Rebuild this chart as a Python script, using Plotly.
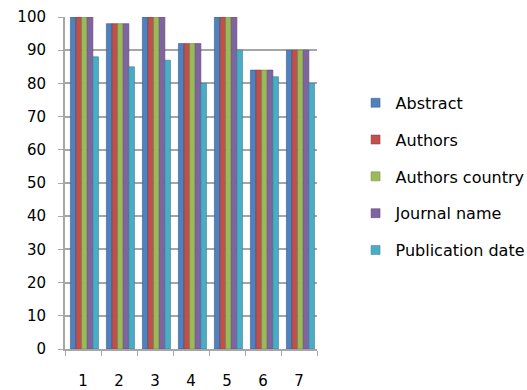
import plotly.graph_objects as go

categories = ["1", "2", "3", "4", "5", "6", "7"]
series_names = ["Abstract", "Authors", "Authors country", "Journal name", "Publication date"]
abstract = [100, 98, 100, 92, 100, 84, 90]
authors = [100, 98, 100, 92, 100, 84, 90]
authors_country = [100, 98, 100, 92, 100, 84, 90]
journal_name = [100, 98, 100, 92, 100, 84, 90]
publication_date = [88, 85, 87, 80, 90, 82, 80]
colors = ["#4F81BD", "#C0504D", "#9BBB59", "#8064A2", "#4BACC6"]
edges = ["#385D8A", "#8C3836", "#71893F", "#5C4776", "#357D91"]

values = [abstract, authors, authors_country, journal_name, publication_date]

bar_w = 0.156
start = -0.35

fig = go.Figure()
for i, (name, vals) in enumerate(zip(series_names, values)):
    fig.add_trace(go.Bar(
        x=categories, y=vals, name=name,
        width=bar_w, offset=start + i * bar_w,
        marker=dict(color=colors[i], line=dict(color=edges[i], width=0.6)),
        showlegend=False,
    ))
# legend entries (small square keys)
for i, name in enumerate(series_names):
    fig.add_trace(go.Scatter(
        x=[None], y=[None], mode="markers", name=name,
        marker=dict(symbol="square", size=9, color=colors[i],
                    line=dict(color=edges[i], width=0.5)),
        legendgroup=name, showlegend=True, hoverinfo="skip",
    ))

font = "DejaVu Sans"
fig.update_layout(
    width=527, height=390,
    margin=dict(l=65, r=210, t=17, b=41, autoexpand=False),
    paper_bgcolor="white", plot_bgcolor="white",
    barmode="overlay",
    font=dict(family=font, size=15, color="black"),
    showlegend=True,
    legend=dict(x=1.153, y=0.52, xanchor="left", yanchor="middle",
                font=dict(size=16, family=font), tracegroupgap=13,
                itemwidth=30),
    xaxis=dict(type="category", showgrid=False, showline=True,
               linecolor="#a6a6a6", linewidth=2, automargin=False,
               ticks="outside", tickson="boundaries", ticklen=5,
               tickcolor="#a6a6a6", tickwidth=1,
               ticklabelstandoff=17, tickfont=dict(size=15)),
    yaxis=dict(range=[0, 100], dtick=10, showgrid=True, automargin=False,
               gridcolor="#a6a6a6", gridwidth=2,
               showline=True, linecolor="#a6a6a6", linewidth=2,
               ticks="outside", ticklen=5, tickcolor="#a6a6a6",
               ticklabelstandoff=9, zeroline=False,
               tickfont=dict(size=15)),
)

fig.write_html("out.html")
